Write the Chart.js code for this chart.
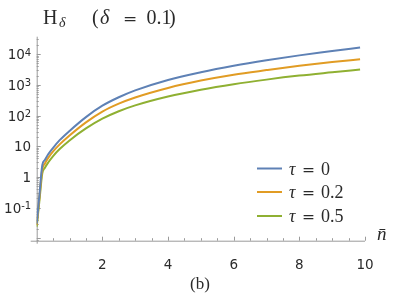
<!DOCTYPE html>
<html>
<head>
<meta charset="utf-8">
<script src="https://cdn.jsdelivr.net/npm/chart.js@4.4.1/dist/chart.umd.min.js"></script>
<style>
html, body { margin: 0; padding: 0; background: #fff; }
#wrap { width: 399px; height: 294px; position: relative; }
</style>
</head>
<body>
<div id="wrap"><canvas id="chart" width="399" height="294"></canvas></div>
<script>
// values (n-bar on x, H_delta on a log y axis)
const nValues = [0, 0.08, 0.17, 0.25, 0.35, 0.5, 0.7, 1, 1.5, 2, 2.5, 3, 4, 5, 6, 7, 8, 9, 9.85];
const tau0  = [0.030, 0.24, 2.4, 3.6, 5.5, 8.9, 15.8, 31.6, 89, 209, 394, 661, 1445, 2570, 4170, 6310, 9120, 12590, 16600];
const tau02 = [0.0275, 0.20, 1.78, 2.75, 4.17, 6.76, 11.5, 22.4, 60, 135, 245, 389, 794, 1380, 2140, 3020, 4170, 5500, 6760];
const tau05 = [0.024, 0.158, 1.32, 2.0, 2.95, 4.8, 8.1, 15.5, 38, 79, 138, 214, 417, 692, 1047, 1480, 2000, 2570, 3160];

const seriesLabels = ['0', '0.2', '0.5'];
const seriesColors = ['#5e81b5', '#e19c24', '#8fb032'];

const xTicks = [2, 4, 6, 8, 10];
const yTicks = [0.1, 1, 10, 100, 1000, 10000];
const yTickBase = ['10', '1', '10', '10', '10', '10'];
const yTickExp = ['-1', '', '', '2', '3', '4'];

const axisColor = '#9a9a9a';
const textColor = '#2a2a2a';
const serif = '"Liberation Serif", "DejaVu Serif", serif';

function toPoints(ys) {
    return nValues.map((n, i) => ({ x: n, y: ys[i] }));
}

// axes drawn Mathematica style: ticks pointing inwards, minor ticks
const axesPlugin = {
    id: 'axesPlugin',
    beforeDatasetsDraw(chart) {
        const ctx = chart.ctx;
        const xs = chart.scales.x;
        const ys = chart.scales.y;
        const x0 = xs.getPixelForValue(0);
        const yb = chart.chartArea.bottom;
        const yt = chart.chartArea.top;

        ctx.save();
        ctx.strokeStyle = axisColor;
        ctx.lineWidth = 1;

        ctx.beginPath();
        ctx.moveTo(x0 - 6, yb + 0.5);
        ctx.lineTo(xs.getPixelForValue(10), yb + 0.5);
        ctx.moveTo(x0 + 0.5, yt);
        ctx.lineTo(x0 + 0.5, yb + 3);
        ctx.stroke();

        // x ticks
        ctx.beginPath();
        for (let v = 0.5; v <= 10.001; v += 0.5) {
            const px = Math.round(xs.getPixelForValue(v)) + 0.5;
            const major = Math.abs(v / 2 - Math.round(v / 2)) < 1e-6;
            ctx.moveTo(px, yb);
            ctx.lineTo(px, yb - (major ? 4 : 2.5));
        }
        ctx.stroke();

        // y ticks
        ctx.beginPath();
        for (let e = -3; e <= 4; e++) {
            for (let m = 1; m <= 9; m++) {
                const v = m * Math.pow(10, e);
                if (v < ys.min || v > ys.max) continue;
                const py = Math.round(ys.getPixelForValue(v)) + 0.5;
                ctx.moveTo(x0, py);
                ctx.lineTo(x0 + (m === 1 ? 4 : 2), py);
            }
        }
        ctx.stroke();

        // y tick labels, base and raised exponent
        ctx.fillStyle = textColor;
        ctx.textBaseline = 'alphabetic';
        ctx.textAlign = 'left';
        const right = x0 - 5.5;
        yTicks.forEach((v, i) => {
            const py = ys.getPixelForValue(v);
            ctx.font = '10px "DejaVu Sans"';
            const ew = yTickExp[i] ? ctx.measureText(yTickExp[i]).width : 0;
            ctx.font = '13.5px "DejaVu Sans"';
            const bw = ctx.measureText(yTickBase[i]).width;
            ctx.fillText(yTickBase[i], right - ew - bw, py + 5);
            if (yTickExp[i]) {
                ctx.font = '10px "DejaVu Sans"';
                ctx.fillText(yTickExp[i], right - ew, py + 1.5);
            }
        });
        ctx.restore();
    },
    afterDraw(chart) {
        const ctx = chart.ctx;
        ctx.save();
        ctx.fillStyle = textColor;
        ctx.textBaseline = 'alphabetic';

        // title
        ctx.font = '20px ' + serif;
        ctx.fillText('H', 43, 23.5);
        ctx.font = 'italic 14px ' + serif;
        ctx.fillText('δ', 59, 27);
        ctx.font = '20px ' + serif;
        ctx.fillText('(', 92, 23.5);
        ctx.font = 'italic 20px ' + serif;
        ctx.fillText('δ', 100, 23.5);
        ctx.font = '17px "DejaVu Serif"';
        ctx.fillText('=', 123, 23.5);
        ctx.font = '20px ' + serif;
        ctx.fillText('0.1', 146.5, 23.5);
        ctx.fillText(')', 169, 23.5);

        // legend
        const legendY = [168.5, 192, 216];
        chart.data.datasets.forEach((ds, i) => {
            ctx.strokeStyle = ds.borderColor;
            ctx.lineWidth = 2;
            ctx.beginPath();
            ctx.moveTo(257, legendY[i]);
            ctx.lineTo(282, legendY[i]);
            ctx.stroke();
            ctx.font = 'italic 18px ' + serif;
            ctx.fillText('τ', 289, legendY[i] + 6);
            ctx.font = '15.5px "DejaVu Serif"';
            ctx.fillText('=', 302, legendY[i] + 6);
            ctx.font = '18px ' + serif;
            ctx.fillText(seriesLabels[i], 321, legendY[i] + 6);
        });

        // axis label and panel label
        ctx.font = 'italic 19px ' + serif;
        ctx.fillText('n̄', 377, 240);
        ctx.font = '17px ' + serif;
        ctx.textAlign = 'center';
        ctx.fillText('(b)', 200, 289);
        ctx.restore();
    }
};

const ctx = document.getElementById('chart');

new Chart(ctx, {
    type: 'line',
    data: {
        datasets: [
            { label: 'τ = 0', data: toPoints(tau0) },
            { label: 'τ = 0.2', data: toPoints(tau02) },
            { label: 'τ = 0.5', data: toPoints(tau05) }
        ].map((ds, i) => Object.assign(ds, {
            borderColor: seriesColors[i],
            borderWidth: 2,
            pointRadius: 0,
            cubicInterpolationMode: 'monotone',
            fill: false
        }))
    },
    options: {
        responsive: false,
        animation: false,
        devicePixelRatio: 1,
        layout: {
            padding: { left: 0, right: 34, top: 36.7, bottom: 0 }
        },
        plugins: {
            legend: { display: false },
            tooltip: { enabled: false }
        },
        scales: {
            x: {
                type: 'linear',
                min: 0,
                max: 10,
                afterBuildTicks: scale => {
                    scale.ticks = xTicks.map(v => ({ value: v }));
                },
                afterFit: scale => {
                    scale.height = 53.3;
                },
                grid: { display: false },
                border: { display: false },
                ticks: {
                    color: textColor,
                    padding: 8.5,
                    maxRotation: 0,
                    font: { family: 'DejaVu Sans', size: 13.5 }
                }
            },
            y: {
                type: 'logarithmic',
                min: 0.0084,
                max: 37000,
                afterBuildTicks: scale => {
                    scale.ticks = yTicks.map(v => ({ value: v }));
                },
                afterFit: scale => {
                    scale.width = 36.7;
                },
                grid: { display: false },
                border: { display: false },
                ticks: { display: false }
            }
        }
    },
    plugins: [axesPlugin]
});
</script>
</body>
</html>
